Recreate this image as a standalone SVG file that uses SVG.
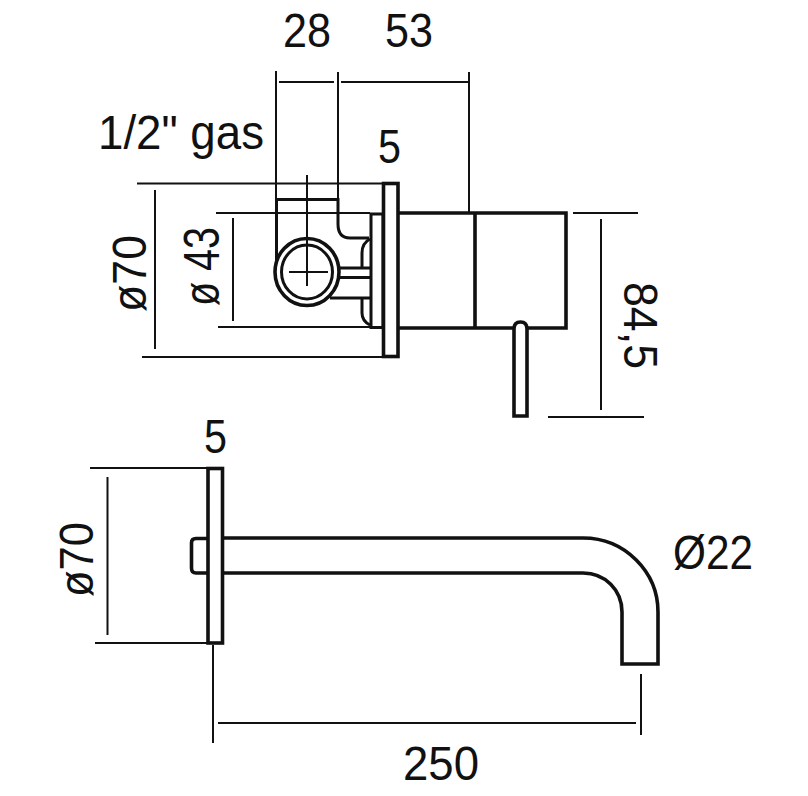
<svg xmlns="http://www.w3.org/2000/svg" width="808" height="796" viewBox="0 0 808 796">
<style>
.o{fill:none;stroke:#111;stroke-width:3.6;stroke-linejoin:miter}
.m{fill:none;stroke:#111;stroke-width:3}
.d{fill:none;stroke:#111;stroke-width:2}
text{font-family:"Liberation Sans",Arial,sans-serif;font-size:47.500px;fill:#111}
</style>
<rect width="808" height="796" fill="#fff"/>
<g id="connectors">
<path class="d" d="M276 71V199M338 72V199M469 72V213M279 82H334M341 82H468"/>
<path class="d" d="M137 183.500H382M142 357H382M216 213H370M218 327H370M155 190V349M233 218V321"/>
<path class="d" d="M573 213H638M548 417H644M601 219V410"/>
<path class="d" d="M90 468H207M95 643H207M107.500 477V635M213 645V743M218 723H636M641 674V735"/>
</g>
<g id="valve-body">
<path class="m" d="M276.500 260V199.500H338V224Q338 238 350 238H369"/>
<ellipse class="o" cx="307" cy="272" rx="32" ry="33.500"/>
<ellipse class="m" cx="307" cy="272" rx="25.500" ry="27"/>
<path class="d" d="M289 272H328M307 175V286"/>
<path class="m" d="M339 268H370M339 277.500H370M330 298H370"/>
<path class="m" d="M370 239Q362 243 362 253V267M362 299V313Q362 321 370 325"/>
<rect class="m" x="371" y="214" width="12" height="113.500"/>
<rect class="o" x="383.500" y="183.500" width="14.500" height="173"/>
<path class="o" d="M399 213H566V328H399M475 213V328"/>
</g>
<g id="lever">
<path class="o" style="fill:#fff" d="M514 416V329Q514 322 520.500 322T527 329V416Z"/>
</g>
<g id="spout">
<rect class="o" x="208" y="468.500" width="14.500" height="174.500"/>
<path class="o" d="M207 538.500H196Q191.500 538.500 191.500 543V568Q191.500 573 196 573H207"/>
<path class="o" d="M224 538H583C625 538 658 572 658 612V664H622V612C622 590 605 573 583 573H224"/>
</g>
<g id="labels">
<text x="283" y="47" textLength="48" lengthAdjust="spacingAndGlyphs">28</text>
<text x="385" y="47" textLength="48" lengthAdjust="spacingAndGlyphs">53</text>
<text x="98" y="149" textLength="166" lengthAdjust="spacingAndGlyphs">1/2" gas</text>
<text x="378" y="163" textLength="23" lengthAdjust="spacingAndGlyphs">5</text>
<text x="204" y="453" textLength="23" lengthAdjust="spacingAndGlyphs">5</text>
<text x="673" y="569" textLength="80" lengthAdjust="spacingAndGlyphs">Ø22</text>
<text x="403" y="780" textLength="76" lengthAdjust="spacingAndGlyphs">250</text>
<text transform="translate(146 312) rotate(-90)" textLength="77" lengthAdjust="spacingAndGlyphs">ø70</text>
<text transform="translate(219 306) rotate(-90)" textLength="79" lengthAdjust="spacingAndGlyphs" style="font-size:50px">ø 43</text>
<text transform="translate(93 597) rotate(-90)" textLength="75" lengthAdjust="spacingAndGlyphs">ø70</text>
<text transform="translate(624 282) rotate(90)" textLength="87" lengthAdjust="spacingAndGlyphs">84,5</text>
</g>
</svg>
